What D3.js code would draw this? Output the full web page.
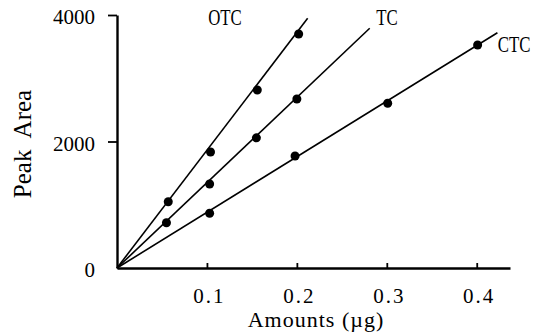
<!DOCTYPE html>
<html>
<head>
<meta charset="utf-8">
<script src="https://cdn.jsdelivr.net/npm/d3@7/dist/d3.min.js"></script>
<style>
  html, body { margin: 0; padding: 0; background: #fff; }
  svg { display: block; font-family: "Liberation Serif", "DejaVu Serif", serif; }
</style>
</head>
<body>
<div id="chart"></div>
<script>
// Calibration curves: peak area vs amount injected (µg)
const otcX = [0.057, 0.104, 0.156, 0.202];
const otcY = [1048, 1834, 2814, 3700];
const tcX  = [0.055, 0.103, 0.155, 0.200];
const tcY  = [716, 1328, 2058, 2672];
const ctcX = [0.103, 0.198, 0.301, 0.401];
const ctcY = [865, 1771, 2604, 3526];

// where each fitted line stops (x in µg, y in area)
const lineEndX = [0.212, 0.281, 0.423];
const lineEndY = [3947, 3790, 3720];
const seriesNames = ['OTC', 'TC', 'CTC'];

const xTicks = [0.1, 0.2, 0.3, 0.4];
const yTicks = [0, 2000, 4000];

const W = 545, H = 335;
const svg = d3.select('#chart').append('svg')
  .attr('width', W).attr('height', H);

const x = d3.scaleLinear().domain([0, 0.437]).range([117, 510]);
const y = d3.scaleLinear().domain([0, 4000]).range([268, 15]);

// y axis
const yAxis = svg.append('g')
  .attr('transform', `translate(${x(0)},0)`)
  .attr('font-family', null)
  .call(d3.axisLeft(y).tickValues(yTicks).tickSize(9).tickSizeOuter(0).tickPadding(13)
    .tickFormat(d3.format('d')));
yAxis.select('.domain').attr('stroke-width', 2.4);
yAxis.selectAll('.tick line').attr('stroke-width', 1.8)
  .attr('display', (d) => d === 0 ? 'none' : null);
yAxis.selectAll('.tick text')
  .attr('font-size', 21).attr('fill', '#000').attr('dy', '0.42em')
  .style('font-family', '"Liberation Serif", serif');

// x axis
const xAxis = svg.append('g')
  .attr('transform', `translate(0,${y(0)})`)
  .call(d3.axisBottom(x).tickValues(xTicks).tickSize(-5).tickSizeOuter(0).tickPadding(20)
    .tickFormat(d3.format('.1f')));
xAxis.select('.domain').attr('stroke-width', 2.4);
xAxis.selectAll('.tick line').attr('stroke-width', 1.8);
xAxis.selectAll('.tick text')
  .attr('font-size', 21).attr('fill', '#000').attr('dx', 2)
  .style('letter-spacing', '2px')
  .style('font-family', '"Liberation Serif", serif');

// fitted lines from the origin
const series = [
  { xs: otcX, ys: otcY },
  { xs: tcX, ys: tcY },
  { xs: ctcX, ys: ctcY },
];
const line = d3.line().x((d) => x(d[0])).y((d) => y(d[1]));
series.forEach((s, i) => {
  svg.append('path')
    .attr('d', line([[0, 0], [lineEndX[i], lineEndY[i]]]))
    .attr('fill', 'none').attr('stroke', '#000').attr('stroke-width', 1.6);
  svg.append('g').selectAll('circle')
    .data(s.xs.map((v, j) => [v, s.ys[j]]))
    .enter().append('circle')
    .attr('cx', (d) => x(d[0])).attr('cy', (d) => y(d[1]))
    .attr('r', 4.5).attr('fill', '#000');
});

// series labels (narrow lettering)
const labelPos = [[225, 25], [387, 25], [514, 52]];
seriesNames.forEach((name, i) => {
  svg.append('text')
    .attr('transform', `translate(${labelPos[i][0]},${labelPos[i][1]}) scale(0.7,1)`)
    .attr('text-anchor', 'middle')
    .attr('font-size', 24)
    .text(name);
});

// axis titles
svg.append('text')
  .attr('transform', 'translate(31,144) rotate(-90)')
  .attr('text-anchor', 'middle')
  .attr('font-size', 25)
  .style('white-space', 'pre')
  .text('Peak  Area');

svg.append('text')
  .attr('x', 316).attr('y', 327)
  .attr('text-anchor', 'middle')
  .attr('font-size', 22)
  .style('letter-spacing', '1px')
  .text('Amounts (\u00b5g)');
</script>
</body>
</html>
